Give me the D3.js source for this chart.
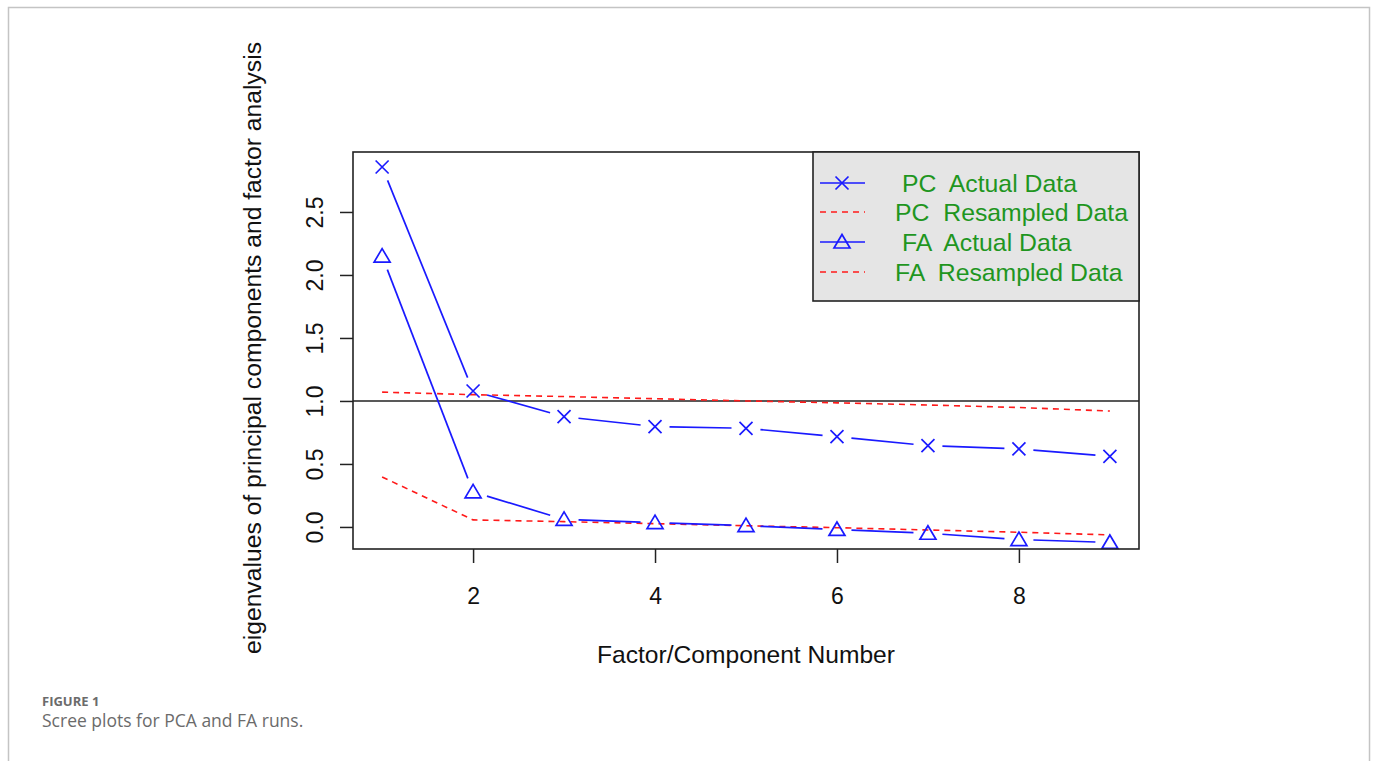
<!DOCTYPE html>
<html>
<head>
<meta charset="utf-8">
<script src="https://cdn.jsdelivr.net/npm/d3@7"></script>
<style>
  body { margin: 0; background: #fff; }
  svg text { font-family: "Liberation Sans", Arial, sans-serif; }
</style>
</head>
<body>
<div id="container"></div>
<script>
const width = 1377,
  height = 761,
  margin = { top: 152, bottom: 212, left: 353, right: 238 };

// component numbers and eigenvalues
const components = [1, 2, 3, 4, 5, 6, 7, 8, 9]
const pcActual = [2.857, 1.079, 0.875, 0.797, 0.783, 0.717, 0.645, 0.619, 0.56]
const pcResampled = [1.07, 1.05, 1.035, 1.018, 1.0, 0.985, 0.968, 0.948, 0.92]
const faActual = [2.15, 0.278, 0.06, 0.034, 0.01, -0.02, -0.05, -0.1, -0.123]
const faResampled = [0.397, 0.056, 0.042, 0.026, 0.01, -0.006, -0.024, -0.042, -0.063]

const xTicks = [2, 4, 6, 8]
const yTicks = [0, 0.5, 1.0, 1.5, 2.0, 2.5]
const legendLabels = [" PC  Actual Data", "PC  Resampled Data", " FA  Actual Data", "FA  Resampled Data"]

const xScale = d3.scaleLinear()
  .domain([0.68, 9.32])
  .range([margin.left, width - margin.right])

const yScale = d3.scaleLinear()
  .domain([-0.175, 2.976])
  .range([height - margin.bottom, margin.top])

const svg = d3.select("#container")
  .append("svg")
  .attr("width", width)
  .attr("height", height)

// page frame
svg.append("rect")
  .attr("x", 8.5).attr("y", 7.5)
  .attr("width", 1361).attr("height", 800)
  .attr("fill", "none")
  .attr("stroke", "#c4c4c4")
  .attr("stroke-width", 1.5)

const pcData = components.map((c, i) => ({ x: c, y: pcActual[i] }))
const faData = components.map((c, i) => ({ x: c, y: faActual[i] }))

// reference line at eigenvalue 1
svg.append("line")
  .attr("x1", margin.left).attr("x2", width - margin.right)
  .attr("y1", yScale(1)).attr("y2", yScale(1))
  .attr("stroke", "#222")
  .attr("stroke-width", 1.6)

// dashed resampled lines
const line = d3.line()
  .x((d, i) => xScale(components[i]))
  .y(d => yScale(d))

;[pcResampled, faResampled].forEach(vals => {
  svg.append("path")
    .attr("d", line(vals))
    .attr("fill", "none")
    .attr("stroke", "#ff1a1a")
    .attr("stroke-width", 1.6)
    .attr("stroke-dasharray", "6,5")
})

// type = "b" lines: segments with gaps round the points
const gap = 14.5
function gappedSegments(data) {
  const segs = []
  for (let i = 0; i < data.length - 1; i++) {
    const x1 = xScale(data[i].x), y1 = yScale(data[i].y)
    const x2 = xScale(data[i + 1].x), y2 = yScale(data[i + 1].y)
    const len = Math.hypot(x2 - x1, y2 - y1)
    if (len <= 2 * gap) continue
    const ux = (x2 - x1) / len, uy = (y2 - y1) / len
    segs.push({ x1: x1 + ux * gap, y1: y1 + uy * gap, x2: x2 - ux * gap, y2: y2 - uy * gap })
  }
  return segs
}

;[pcData, faData].forEach(data => {
  svg.append("g")
    .selectAll("line")
    .data(gappedSegments(data))
    .join("line")
    .attr("x1", d => d.x1).attr("y1", d => d.y1)
    .attr("x2", d => d.x2).attr("y2", d => d.y2)
    .attr("stroke", "#1a1aff")
    .attr("stroke-width", 1.7)
})

function crossPath(cx, cy) {
  const s = 6.5
  return `M${cx - s},${cy - s}L${cx + s},${cy + s}M${cx - s},${cy + s}L${cx + s},${cy - s}`
}
function trianglePath(cx, cy) {
  return `M${cx},${cy - 7.5}L${cx + 8},${cy + 6}L${cx - 8},${cy + 6}Z`
}

svg.append("g")
  .selectAll("path")
  .data(pcData)
  .join("path")
  .attr("d", d => crossPath(xScale(d.x), yScale(d.y)))
  .attr("fill", "none")
  .attr("stroke", "#1a1aff")
  .attr("stroke-width", 1.7)

svg.append("g")
  .selectAll("path")
  .data(faData)
  .join("path")
  .attr("d", d => trianglePath(xScale(d.x), yScale(d.y)))
  .attr("fill", "none")
  .attr("stroke", "#1a1aff")
  .attr("stroke-width", 1.7)

// axes
const xAxisGroup = svg.append("g")
  .attr("transform", `translate(0,${height - margin.bottom})`)
  .call(d3.axisBottom(xScale).tickValues(xTicks).tickSize(14).tickPadding(25).tickSizeOuter(0))

xAxisGroup.select(".domain").remove()
xAxisGroup.selectAll("line").attr("stroke", "#222").attr("stroke-width", 1.5)
xAxisGroup.selectAll("text")
  .attr("font-family", "Liberation Sans, Arial, sans-serif")
  .attr("font-size", 23)
  .attr("fill", "#111")

const yAxisGroup = svg.append("g")
  .attr("transform", `translate(${margin.left},0)`)
  .call(d3.axisLeft(yScale).tickValues(yTicks).tickSize(13).tickFormat(d3.format(".1f")))

yAxisGroup.select(".domain").remove()
yAxisGroup.selectAll("line").attr("stroke", "#222").attr("stroke-width", 1.5)
yAxisGroup.selectAll("text")
  .attr("x", null).attr("dy", null)
  .attr("transform", "translate(-30,0) rotate(-90)")
  .attr("text-anchor", "middle")
  .attr("font-family", "Liberation Sans, Arial, sans-serif")
  .attr("font-size", 23)
  .attr("fill", "#111")

// plot box
svg.append("rect")
  .attr("x", margin.left).attr("y", margin.top)
  .attr("width", width - margin.right - margin.left)
  .attr("height", height - margin.bottom - margin.top)
  .attr("fill", "none")
  .attr("stroke", "#222")
  .attr("stroke-width", 1.6)

// axis titles
svg.append("text")
  .attr("text-anchor", "middle")
  .attr("x", 746)
  .attr("y", 663)
  .style("font-size", "24.6px")
  .style("fill", "#111")
  .text("Factor/Component Number")

svg.append("text")
  .attr("text-anchor", "middle")
  .attr("transform", "translate(261,348) rotate(-90)")
  .style("font-size", "24.7px")
  .style("fill", "#111")
  .text("eigenvalues of principal components and factor analysis")

// legend
const legend = svg.append("g")
legend.append("rect")
  .attr("x", 813).attr("y", margin.top)
  .attr("width", width - margin.right - 813)
  .attr("height", 149)
  .attr("fill", "#e5e5e5")
  .attr("stroke", "#222")
  .attr("stroke-width", 1.6)

const rowY = [183, 212, 242, 272]
legendLabels.forEach((label, i) => {
  const y = rowY[i]
  const resampled = i % 2 === 1
  legend.append("line")
    .attr("x1", 820).attr("x2", 865)
    .attr("y1", y).attr("y2", y)
    .attr("stroke", resampled ? "#ff1a1a" : "#1a1aff")
    .attr("stroke-width", resampled ? 1.5 : 1.7)
    .attr("stroke-dasharray", resampled ? "6,5" : null)
  if (!resampled) {
    legend.append("path")
      .attr("d", i === 0 ? crossPath(842, y) : trianglePath(842, y))
      .attr("fill", "none")
      .attr("stroke", "#1a1aff")
      .attr("stroke-width", 1.7)
  }
  legend.append("text")
    .attr("x", 895)
    .attr("y", y)
    .attr("dy", "0.36em")
    .style("white-space", "pre")
    .style("font-size", "24.8px")
    .style("fill", "#1f961f")
    .text(label)
})

// caption
svg.append("text")
  .attr("x", 42).attr("y", 706)
  .style("font-family", "'Open Sans', 'Noto Sans', sans-serif")
  .style("font-size", "13px")
  .style("font-weight", "bold")
  .style("fill", "#6b6b6b")
  .text("FIGURE 1")

svg.append("text")
  .attr("x", 42).attr("y", 727)
  .style("font-family", "'Open Sans', 'Noto Sans', sans-serif")
  .style("font-size", "17.5px")
  .style("fill", "#6b6b6b")
  .text("Scree plots for PCA and FA runs.")
</script>
</body>
</html>
